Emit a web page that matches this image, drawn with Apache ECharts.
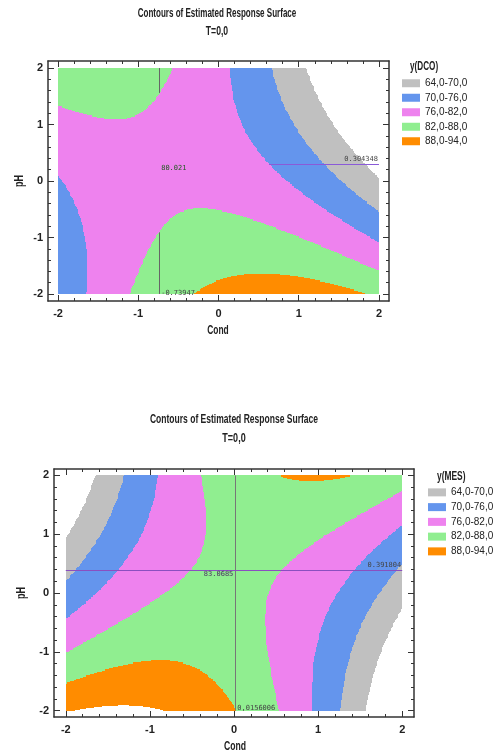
<!DOCTYPE html>
<html>
<head>
<meta charset="utf-8">
<script src="https://cdn.jsdelivr.net/npm/echarts@6/dist/echarts.min.js"></script>
<style>
html, body { margin: 0; padding: 0; background: #fff; }
#main { width: 495px; height: 753px; }
</style>
</head>
<body>
<div id="main"></div>
<script>
// contour bands (same for both plots)
var bandNames = ['64,0-70,0', '70,0-76,0', '76,0-82,0', '82,0-88,0', '88,0-94,0'];
var bandLow = [64, 70, 76, 82, 88];
var bandStep = 6;
var bandColors = ['#c0c0c0', '#6495ed', '#ee82ee', '#90ee90', '#ff8c00'];

// axis ticks
var tickValues = [-2, -1, 0, 1, 2];
var minorTickValues = [-2, -1.8, -1.6, -1.4, -1.2, -1, -0.8, -0.6, -0.4, -0.2, 0,
  0.2, 0.4, 0.6, 0.8, 1, 1.2, 1.4, 1.6, 1.8, 2];

// estimated response surfaces: [const, Cond, pH, Cond^2, pH^2, Cond*pH]
var dcoCoef = [80.2, -2.8, -3.0, -2.55, 0.8, -3.35];
var mesCoef = [83.2, -1.45, -0.75, -3.6, 0.89, 4.2];

// crosshair position and its labels: [at cross, at bottom, at right]
var dcoCross = [-0.73947, 0.304348];
var dcoCrossText = ['80.021', '-0.73947', '0.304348'];
var mesCross = [0.0156006, 0.391804];
var mesCrossText = ['83.0685', '0,0156006', '0.391804'];

var FONT = "'Liberation Sans', Arial, sans-serif";

function surface(c, x, y) {
  return c[0] + c[1] * x + c[2] * y + c[3] * x * x + c[4] * y * y + c[5] * x * y;
}

function bandOf(v) {
  for (var k = 0; k < bandLow.length; k++) {
    if (v >= bandLow[k] && v < bandLow[k] + bandStep) return k;
  }
  return -1;
}

// sample the surface on a fine grid, merge same-band cells of each row into runs
function buildRuns(coef) {
  var out = bandLow.map(function () { return []; });
  var nx = 400, ny = 200, dx = 4 / nx, dy = 4 / ny;
  for (var i = 0; i <= ny; i++) {
    var y = -2 + i * dy;
    var y0 = Math.max(-2, y - dy / 2), y1 = Math.min(2, y + dy / 2);
    var start = 0, cur = bandOf(surface(coef, -2, y));
    for (var j = 1; j <= nx + 1; j++) {
      var b = j <= nx ? bandOf(surface(coef, -2 + j * dx, y)) : -2;
      if (b !== cur) {
        if (cur >= 0) {
          var xa = Math.max(-2, -2 + start * dx - dx / 2);
          var xb = Math.min(2, -2 + (j - 1) * dx + dx / 2);
          out[cur].push([xa, xb, y0, y1]);
        }
        start = j;
        cur = b;
      }
    }
  }
  return out;
}

// parts of a crosshair line that are not inside hideBand
function segments(coef, fixed, vertical, hideBand) {
  var segs = [], n = 400, open = null, last = null;
  for (var i = 0; i <= n; i++) {
    var t = -2 + i * 4 / n;
    var x = vertical ? fixed : t, y = vertical ? t : fixed;
    var show = hideBand == null || bandOf(surface(coef, x, y)) !== hideBand;
    if (show && open === null) open = t;
    if (!show && open !== null) { segs.push([open, last]); open = null; }
    last = t;
  }
  if (open !== null) segs.push([open, 2]);
  return segs.map(function (s) {
    return vertical
      ? [{ coord: [fixed, s[0]] }, { coord: [fixed, s[1]] }]
      : [{ coord: [s[0], fixed] }, { coord: [s[1], fixed] }];
  });
}

function renderRun(params, api) {
  var p0 = api.coord([api.value(0), api.value(3)]);
  var p1 = api.coord([api.value(1), api.value(2)]);
  var x0 = Math.round(p0[0]), x1 = Math.round(p1[0]);
  var y0 = Math.floor(p0[1]), y1 = Math.ceil(p1[1]);
  return {
    type: 'rect',
    shape: { x: x0, y: y0, width: x1 - x0, height: y1 - y0 },
    style: { fill: api.visual('color') }
  };
}

function makeAxes(gi, range, dim) {
  var c = '#333';
  var sides = dim === 'x' ? ['bottom', 'top'] : ['left', 'right'];
  var list = [];
  sides.forEach(function (side, si) {
    list.push({
      gridIndex: gi, type: 'value', position: side, min: -range, max: range,
      axisLine: { show: true, onZero: false, lineStyle: { color: c, width: 1.5 } },
      axisTick: { show: true, inside: true, length: 6, customValues: tickValues, lineStyle: { color: c } },
      axisLabel: {
        show: si === 0, customValues: tickValues, margin: dim === 'x' ? 7 : 5,
        fontFamily: FONT, fontSize: 11, fontWeight: 'bold', color: '#222',
        formatter: function (v) { return String(v); }
      },
      splitLine: { show: false }
    });
    list.push({
      gridIndex: gi, type: 'value', position: side, min: -range, max: range,
      axisLine: { show: false, onZero: false },
      axisTick: { show: true, inside: true, length: 3, customValues: minorTickValues, lineStyle: { color: c } },
      axisLabel: { show: false },
      splitLine: { show: false }
    });
  });
  return list;
}

function plotSeries(gi, coef, cross, crossText, hideBand, colors) {
  var runs = buildRuns(coef);
  var xi = gi * 4, yi = gi * 4;
  var list = runs.map(function (data, k) {
    return {
      type: 'custom', name: bandNames[k], xAxisIndex: xi, yAxisIndex: yi,
      itemStyle: { color: bandColors[k] },
      encode: { x: [0, 1], y: [2, 3] },
      renderItem: renderRun, data: data, silent: true, z: 2
    };
  });
  var lines = segments(coef, cross[0], true, hideBand).map(function (s) {
    s[0].lineStyle = { color: colors[0] }; return s;
  }).concat(segments(coef, cross[1], false, hideBand).map(function (s) {
    s[0].lineStyle = { color: colors[1] }; return s;
  }));
  // crosshair labels: anchor point, then align, vertical align, offset, colour
  var textSpec = [
    [cross[0], cross[1]],
    [cross[0], -2],
    [2, cross[1]]
  ];
  var styleSpec = gi === 0
    ? [['left', 'top', 2, 1, '#1e5a1e'], ['left', 'middle', 2, -1, '#444'], ['right', 'bottom', -1, -1, '#444']]
    : [['right', 'top', -2, 1, '#4a3260'], ['left', 'middle', 2, -2, '#444'], ['right', 'bottom', -1, -1, '#444']];
  list.push({
    type: 'custom', xAxisIndex: xi, yAxisIndex: yi, silent: true, z: 5,
    data: textSpec,
    renderItem: function (params, api) {
      var p = api.coord([api.value(0), api.value(1)]);
      var s = styleSpec[params.dataIndex];
      return {
        type: 'text', x: p[0] + s[2], y: p[1] + s[3],
        style: { text: crossText[params.dataIndex], align: s[0], verticalAlign: s[1],
          fill: s[4], font: '7px "DejaVu Sans Mono", monospace' }
      };
    },
    markLine: {
      silent: true, symbol: 'none', animation: false,
      label: { show: false },
      lineStyle: { type: 'solid', width: 1 },
      data: lines
    }
  });
  return list;
}

function label(text, x, y, sx, opts) {
  opts = opts || {};
  return {
    type: 'text', x: x, y: y, scaleX: sx, rotation: opts.rotation || 0,
    style: { text: text, align: opts.align || 'center', verticalAlign: 'middle',
      font: 'bold 12px ' + FONT, fill: '#222' }
  };
}

var chart = echarts.init(document.getElementById('main'), null, { renderer: 'canvas' });

var legendBase = {
  orient: 'vertical', icon: 'rect', padding: 0, itemGap: 2, selectedMode: false,
  data: bandNames, itemHeight: 8
};

var option = {
  animation: false,
  backgroundColor: '#fff',
  grid: [
    { left: 48, top: 61, width: 341, height: 240, containLabel: false },
    { left: 54, top: 469, width: 360, height: 248, containLabel: false }
  ],
  xAxis: makeAxes(0, 2.125, 'x').concat(makeAxes(1, 2.14, 'x')),
  yAxis: makeAxes(0, 2.125, 'y').concat(makeAxes(1, 2.11, 'y')),
  legend: [
    Object.assign({}, legendBase, { left: 402, top: 77, itemWidth: 18,
      textStyle: { fontFamily: FONT, fontSize: 10, color: '#222', lineHeight: 12.5 } }),
    Object.assign({}, legendBase, { left: 428, top: 486, itemWidth: 18,
      textStyle: { fontFamily: FONT, fontSize: 10, color: '#222', lineHeight: 12.75 } })
  ],
  graphic: [
    label('Contours of Estimated Response Surface', 217, 14, 0.67),
    label('T=0,0', 217, 32, 0.72),
    label('Cond', 218, 331, 0.7),
    label('pH', 20, 181, 0.75, { rotation: Math.PI / 2 }),
    label('y(DCO)', 410, 67, 0.68, { align: 'left' }),

    label('Contours of Estimated Response Surface', 234, 420, 0.71),
    label('T=0,0', 234, 439, 0.75),
    label('Cond', 235, 747, 0.72),
    label('pH', 22, 593, 0.75, { rotation: Math.PI / 2 }),
    label('y(MES)', 437, 477, 0.7, { align: 'left' })
  ],
  series: plotSeries(0, dcoCoef, dcoCross, dcoCrossText, 2, ['#666', '#8a5ad8'])
    .concat(plotSeries(1, mesCoef, mesCross, mesCrossText, null, ['#777', '#8a4fc0']))
};

chart.setOption(option);
</script>
</body>
</html>
